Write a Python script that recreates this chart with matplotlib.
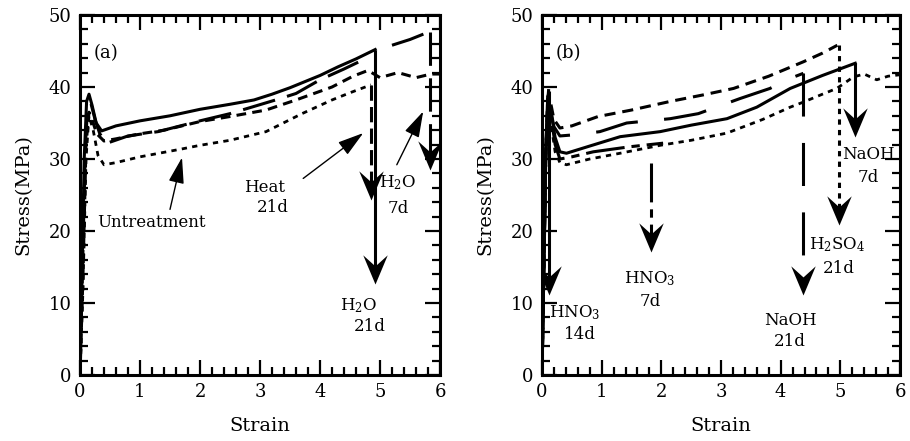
import numpy as np
import matplotlib
matplotlib.use("Agg")
import matplotlib.pyplot as plt
from matplotlib.path import Path
from matplotlib.ticker import MultipleLocator

plt.rcParams['font.family'] = ['DejaVu Serif']
plt.rcParams['mathtext.fontset'] = 'dejavuserif'
plt.rcParams['lines.scale_dashes'] = False

# ---------------- Panel (a) data ----------------
a_solid_strain = [0, 0.03, 0.07, 0.11, 0.15, 0.2, 0.27, 0.36, 0.6, 1.0, 1.5, 2.0, 2.5, 2.9, 3.2, 3.5, 4.0, 4.3, 4.6, 4.92]
a_solid_stress = [0, 12, 30, 38, 39, 37.5, 35, 33.9, 34.6, 35.3, 36.0, 36.9, 37.6, 38.2, 39.0, 39.9, 41.6, 42.8, 43.9, 45.2]

a_long_strain = [0, 0.04, 0.09, 0.13, 0.18, 0.25, 0.33, 0.45, 0.8, 1.3, 2.0, 2.5, 2.9, 3.3, 3.6, 4.0, 4.4, 4.75, 4.95, 5.2, 5.5, 5.83]
a_long_stress = [0, 14, 32, 37.5, 37.8, 35.5, 33.5, 32.2, 33.2, 33.8, 35.3, 36.3, 37.3, 38.3, 39.1, 41.0, 42.5, 43.9, np.nan, 45.8, 46.6, 47.7]

a_med_strain = [0, 0.05, 0.1, 0.15, 0.2, 0.28, 0.4, 0.6, 1.0, 1.4, 2.0, 2.5, 3.1, 3.6, 4.2, 4.55, 4.8, 5.0, 5.3, 5.6, 5.85, 6.0]
a_med_stress = [0, 14, 32, 36.5, 35.5, 33.5, 32.5, 32.8, 33.5, 34.0, 35.2, 35.9, 36.8, 38.2, 40.0, 41.5, 42.3, 41.3, 42.0, 41.3, 41.8, 41.8]

a_dot_strain = [0, 0.05, 0.1, 0.15, 0.22, 0.3, 0.4, 0.6, 1.0, 1.7, 2.0, 2.5, 3.1, 3.7, 4.2, 4.5, 4.85]
a_dot_stress = [0, 12, 30, 36, 34, 30.5, 29.2, 29.5, 30.3, 31.4, 31.9, 32.6, 33.8, 36.3, 38.2, 39.2, 40.3]

# breaks (a): strain, start stress, arrow tip stress
a_break_strain = [4.92, 4.85, 5.83]
a_break_top = [45.2, 40.3, 47.7]
a_break_tip = [12.7, 24.3, 28.5]

# ---------------- Panel (b) data ----------------
b_dash_strain = [0, 0.03, 0.07, 0.1, 0.14, 0.2, 0.3, 0.5, 0.94, 1.5, 2.15, 2.7, 3.21, 3.8, 4.38, 4.7, 4.95]
b_dash_stress = [0, 15, 33, 38.8, 38, 35.5, 34.3, 34.6, 35.9, 36.8, 38.0, 38.9, 39.8, 41.5, 43.5, 44.7, 45.8]

b_long_strain = [0, 0.03, 0.07, 0.1, 0.14, 0.2, 0.3, 0.6, 0.97, 1.42, 2.15, 2.62, 3.32, 3.82, 4.16, 4.38]
b_long_stress = [0, 14, 32, 38, 37, 34.5, 33.2, 33.4, 33.8, 35.0, 35.6, 36.3, 38.4, 39.8, 41.2, 41.9]

b_solid_strain = [0, 0.03, 0.06, 0.1, 0.15, 0.22, 0.3, 0.41, 0.8, 1.31, 1.98, 2.5, 3.1, 3.6, 4.16, 4.7, 5.25]
b_solid_stress = [0, 14, 30, 37.5, 36.5, 33, 31.0, 30.8, 31.8, 33.1, 33.8, 34.7, 35.6, 37.2, 39.8, 41.6, 43.3]

b_dd_strain = [0, 0.03, 0.06, 0.1, 0.15, 0.22, 0.3, 0.5, 0.86, 1.47, 2.03]
b_dd_stress = [0, 14, 30, 38.5, 36, 32, 30.0, 30.3, 31.0, 31.7, 32.2]

b_dot_strain = [0, 0.03, 0.06, 0.1, 0.15, 0.22, 0.3, 0.41, 0.8, 1.31, 1.98, 2.5, 3.1, 3.7, 4.16, 4.38, 4.7, 4.94, 5.22, 5.4, 5.61, 5.8, 6.0]
b_dot_stress = [0, 14, 30, 37, 35, 31, 29.5, 29.2, 30.0, 30.8, 31.9, 32.6, 33.6, 35.5, 37.2, 37.9, 39.0, 39.8, 41.4, 41.8, 41.0, 41.5, 41.7]

b_h14_strain = [0, 0.03, 0.06, 0.09, 0.11]
b_h14_stress = [0, 14, 30, 37.5, 39.5]

# breaks (b): H2SO4 21d, NaOH 21d, NaOH 7d, HNO3 7d, HNO3 14d
b_break_strain = [4.97, 4.37, 5.25, 1.83, 0.11]
b_break_top = [45.8, 41.9, 43.3, 29.4, 39.5]
b_break_tip = [20.8, 11.1, 33.1, 17.1, 11.1]

# ---------------- styles ----------------
LONG_A = (0, (24, 9))
MED = (0, (7, 4.5))
DOT = (0, (3.8, 3.8))
LONG_B = (0, (31, 19))
DASH_B = (0, (8, 5))
DASHDOT = (0, (28, 5, 6, 5))
VDASH = (0, (11, 4.5))

chevron = Path([(0, 0), (-0.42, 1.0), (0, 0.62), (0.42, 1.0), (0, 0)],
               [Path.MOVETO, Path.LINETO, Path.LINETO, Path.LINETO, Path.CLOSEPOLY])


def break_arrow(ax, x, top, tip, ls, lw=2.2, size=42):
    ax.plot([x, x], [top, tip + 2.0], color='k', lw=lw, linestyle=ls, solid_capstyle='butt')
    ax.plot([x], [tip], marker=chevron, markersize=size, color='k', markeredgewidth=0, linestyle='none')


def pointer(ax, start, tip):
    ax.annotate('', xy=tip, xytext=start,
                arrowprops=dict(arrowstyle='-|>,head_length=0.8,head_width=0.24',
                                mutation_scale=20, lw=1.0, color='k',
                                shrinkA=0, shrinkB=0))


def style_axes(ax):
    ax.set_xlim(0, 6)
    ax.set_ylim(0, 50)
    ax.xaxis.set_major_locator(MultipleLocator(1))
    ax.xaxis.set_minor_locator(MultipleLocator(0.2))
    ax.yaxis.set_major_locator(MultipleLocator(10))
    ax.yaxis.set_minor_locator(MultipleLocator(2))
    ax.tick_params(which='both', direction='in', top=True, right=True, width=1.6, labelsize=13)
    ax.tick_params(which='major', length=10.5, pad=6)
    ax.tick_params(which='minor', length=5.5)
    for s in ax.spines.values():
        s.set_linewidth(2.2)
    ax.set_xlabel('Strain', fontsize=14, labelpad=11)
    ax.set_ylabel('Stress(MPa)', fontsize=14, labelpad=12)


fig = plt.figure(figsize=(9.1, 4.41), dpi=100)
axa = fig.add_axes([80 / 910, 1 - 375 / 441, 360 / 910, 360 / 441])
axb = fig.add_axes([542 / 910, 1 - 375 / 441, 358 / 910, 360 / 441])

# ---- panel (a)
axa.plot(a_solid_strain, a_solid_stress, color='k', lw=2.2)
axa.plot(a_long_strain, a_long_stress, color='k', lw=2.2, linestyle=LONG_A)
axa.plot(a_med_strain, a_med_stress, color='k', lw=2.2, linestyle=MED)
axa.plot(a_dot_strain, a_dot_stress, color='k', lw=2.0, linestyle=DOT)
a_break_styles = ['-', VDASH, LONG_A]
for x, t, p, ls in zip(a_break_strain, a_break_top, a_break_tip, a_break_styles):
    break_arrow(axa, x, t, p, ls)

axa.text(0.44, 44.7, '(a)', fontsize=13, ha='center', va='center')
axa.text(1.19, 21.2, 'Untreatment', fontsize=12, ha='center', va='center')
pointer(axa, (1.5, 23.0), (1.7, 30.2))
axa.text(3.08, 26.1, 'Heat', fontsize=12, ha='center', va='center')
axa.text(3.22, 23.2, '21d', fontsize=12, ha='center', va='center')
pointer(axa, (3.72, 27.3), (4.72, 33.6))
axa.text(5.3, 26.7, 'H$_2$O', fontsize=12, ha='center', va='center')
axa.text(5.3, 23.1, '7d', fontsize=12, ha='center', va='center')
pointer(axa, (5.28, 29.2), (5.72, 36.6))
axa.text(4.65, 9.7, 'H$_2$O', fontsize=12, ha='center', va='center')
axa.text(4.83, 6.7, '21d', fontsize=12, ha='center', va='center')
style_axes(axa)

# ---- panel (b)
axb.plot(b_dash_strain, b_dash_stress, color='k', lw=2.2, linestyle=DASH_B)
axb.plot(b_long_strain, b_long_stress, color='k', lw=2.2, linestyle=LONG_B)
axb.plot(b_solid_strain, b_solid_stress, color='k', lw=2.2)
axb.plot(b_dd_strain, b_dd_stress, color='k', lw=2.2, linestyle=DASHDOT)
axb.plot(b_dot_strain, b_dot_stress, color='k', lw=2.0, linestyle=DOT)
axb.plot(b_h14_strain, b_h14_stress, color='k', lw=2.2)
b_break_styles = [DOT, LONG_B, '-', DASHDOT, '-']
for x, t, p, ls in zip(b_break_strain, b_break_top, b_break_tip, b_break_styles):
    break_arrow(axb, x, t, p, ls)

axb.text(0.44, 44.7, '(b)', fontsize=13, ha='center', va='center')
axb.text(5.47, 30.6, 'NaOH', fontsize=12, ha='center', va='center')
axb.text(5.47, 27.5, '7d', fontsize=12, ha='center', va='center')
axb.text(4.94, 18.1, 'H$_2$SO$_4$', fontsize=12, ha='center', va='center')
axb.text(4.97, 14.8, '21d', fontsize=12, ha='center', va='center')
axb.text(4.16, 7.6, 'NaOH', fontsize=12, ha='center', va='center')
axb.text(4.16, 4.6, '21d', fontsize=12, ha='center', va='center')
axb.text(1.81, 13.4, 'HNO$_3$', fontsize=12, ha='center', va='center')
axb.text(1.81, 10.2, '7d', fontsize=12, ha='center', va='center')
axb.text(0.55, 8.6, 'HNO$_3$', fontsize=12, ha='center', va='center')
axb.text(0.64, 5.6, '14d', fontsize=12, ha='center', va='center')
style_axes(axb)

fig.savefig('out.png', dpi=100)
